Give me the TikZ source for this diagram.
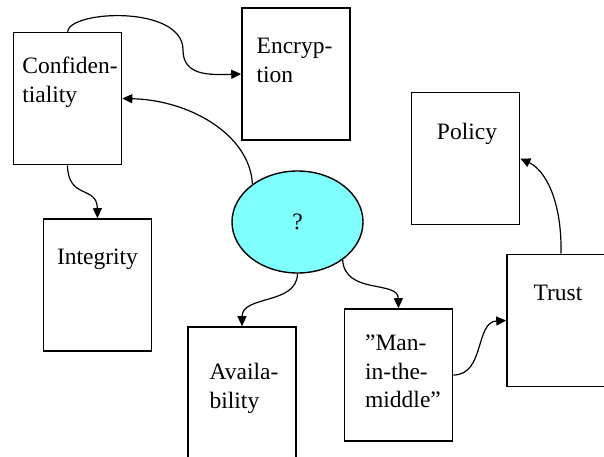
\documentclass[tikz,border=0pt]{standalone}
\usepackage{fontspec}
\setmainfont{Liberation Serif}
\usetikzlibrary{arrows.meta,shapes.geometric}
\definecolor{qcyan}{RGB}{128,255,255}

\begin{document}
\begin{tikzpicture}[x=1pt,y=-1pt,
  box/.style={draw,line width=1.6pt,minimum width=108pt,minimum height=132pt,inner sep=0pt},
  lbl/.style={anchor=north,align=left,inner sep=0pt,font=\fontsize{23.5}{28.5}\selectfont},
  link/.style={line width=1.2pt,-{Triangle[length=10pt,width=9pt]}}]
\useasboundingbox (0,0) rectangle (604,457);
\clip (0,0) rectangle (604,457);

%boxes
\node[box] (conf) at (67.5,98.5) {};
\node[box] (enc) at (296,74) {};
\node[box] (integ) at (97.5,285) {};
\node[box] (policy) at (465.5,158.5) {};
\node[box] (trust) at (561,320.5) {};
\node[box] (mitm) at (398.5,375) {};
\node[box] (avail) at (242,393) {};

%texts
\node[lbl] (conf-t) at (70,57) {Confiden-\\tiality};
\node[lbl] (enc-t) at (294.5,38) {Encryp-\\tion};
\node[lbl] (integ-t) at (97.5,249) {Integrity};
\node[lbl] (policy-t) at (467,122.5) {Policy};
\node[lbl] (trust-t) at (558,285) {Trust};
\node[lbl] (mitm-t) at (403,335) {”Man-\\in-the-\\middle”};
\node[lbl] (avail-t) at (244,363) {Availa-\\bility};

\node[ellipse,draw,line width=1.4pt,fill=qcyan,minimum width=131pt,minimum height=102pt,
  inner sep=0pt,font=\fontsize{23.5}{28.5}\selectfont] (q) at (297.5,222) {?};

%links
\draw[link] (conf.north) .. controls (70,10) and (183,5) .. (183,50)
  .. controls (183,76) and (210,75) .. (enc.west);
\draw[link] (q.140) .. controls (250,135) and (190,100) .. (conf.east);
\draw[link] (conf.south) .. controls (68,200) and (97,185) .. (integ.north);
\draw[link] (q.south) .. controls (297,305) and (242,295) .. (avail.north);
\draw[link] (q.-40) .. controls (345,295) and (398,280) .. (mitm.north);
\draw[link] (mitm.east) .. controls (485,375) and (475,322) .. (trust.west);
\draw[link] (trust.north) .. controls (562,200) and (545,170) .. (policy.east);
\end{tikzpicture}
\end{document}
